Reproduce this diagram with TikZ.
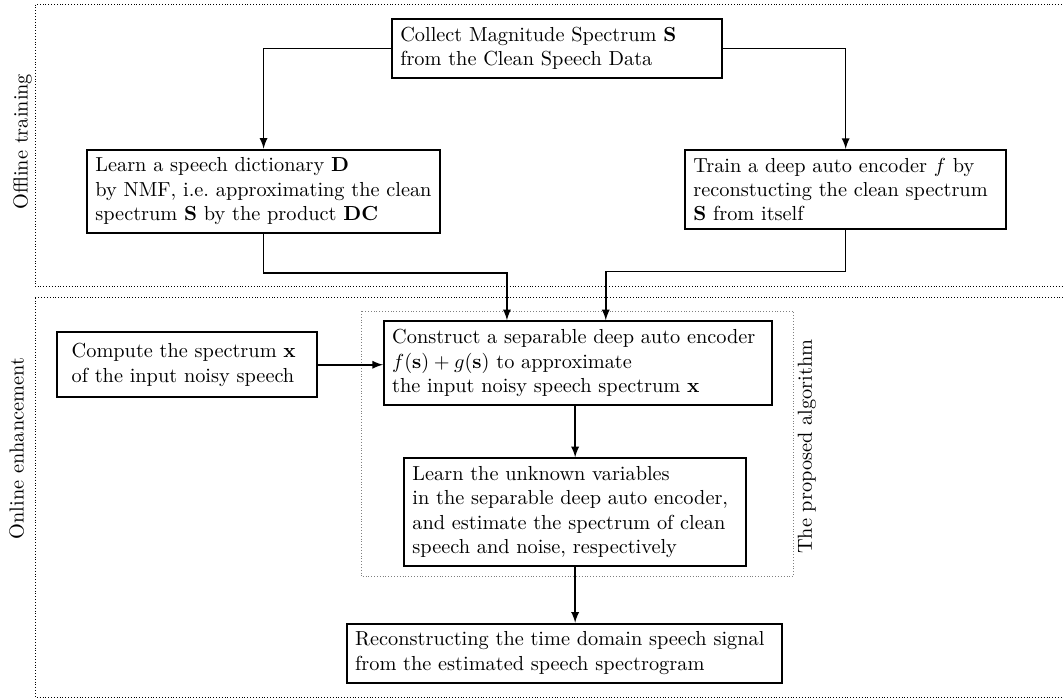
\documentclass[tikz,border=0pt]{standalone}
\usepackage{amsmath}

\begin{document}
\begin{tikzpicture}[
    >=latex,
    stage/.style={
      draw, line width=1pt, align=left, fill=white,
      inner xsep=4pt, inner ysep=4pt
    },
    flow/.style={->, thick},                     % data flow between stages
    frame/.style={densely dotted, thin},         % offline / online regions
    algframe/.style={densely dotted, gray},      % proposed algorithm
    side/.style={rotate=90}
  ]
  \useasboundingbox (0,0) rectangle (18.39,12.09);

  % Region frames (they run off the right edge).
  \draw[frame] (0.61,12.01) rectangle (19.00,7.13);
  \draw[frame] (0.61, 6.94) rectangle (19.00,0.03);
  \draw[algframe] (6.25,6.71) rectangle (13.72,2.11);

  \node[side] (offline)  at ( 0.39,9.64) {Offline training};
  \node[side] (online)   at ( 0.29,4.33) {Online enhancement};
  \node[side] (proposed) at (13.96,4.36) {The proposed algorithm};

  % Offline training stages.
  \node[stage, text width=5.43cm] (collect) at (9.64,11.25)
    {Collect Magnitude Spectrum $\mathbf{S}$\\ from the Clean Speech Data};
  \node[stage, text width=5.82cm] (learndict) at (4.56,8.78)
    {Learn a speech dictionary $\mathbf{D}$\\ by NMF, i.e.\ approximating the clean\\
     spectrum $\mathbf{S}$ by the product $\mathbf{DC}$};
  \node[stage, text width=5.27cm] (train) at (14.63,8.81)
    {Train a deep auto encoder $f$ by\\ reconstucting the clean spectrum\\
     $\mathbf{S}$ from itself};

  % Online enhancement stages.
  \node[stage, text width=4.00cm, inner xsep=7pt, inner ysep=5.5pt] (compute) at (3.24,5.78)
    {Compute the spectrum $\mathbf{x}$\\ of the input noisy speech};
  \node[stage, text width=6.43cm] (construct) at (10.00,5.81)
    {Construct a separable deep auto encoder\\ $f(\mathbf{s})+g(\mathbf{s})$ to approximate\\
     the input noisy speech spectrum $\mathbf{x}$};
  \node[stage, text width=5.63cm] (learnvar) at (9.95,3.23)
    {Learn the unknown variables\\ in the separable deep auto encoder,\\
     and estimate the spectrum of clean\\ speech and noise, respectively};
  \node[stage, text width=7.25cm] (recon) at (9.77,0.79)
    {Reconstructing the time domain speech signal\\ from the estimated speech spectrogram};

  % Connectors.
  \draw[flow] (collect.west) -| (learndict.north);
  \draw[flow] (collect.east) -| (train.north);
  \draw[flow] (learndict.south) -- ++(0,-0.68) -| ([xshift=-1.23cm]construct.north);
  \draw[flow] (train.south) -- ++(0,-0.71) -| ([xshift=0.48cm]construct.north);
  \draw[flow] (compute.east) -- (compute.east -| construct.west);
  \draw[flow] (construct.south -| learnvar.north) -- (learnvar.north);
  \draw[flow] (learnvar.south) -- (learnvar.south |- recon.north);
\end{tikzpicture}
\end{document}
